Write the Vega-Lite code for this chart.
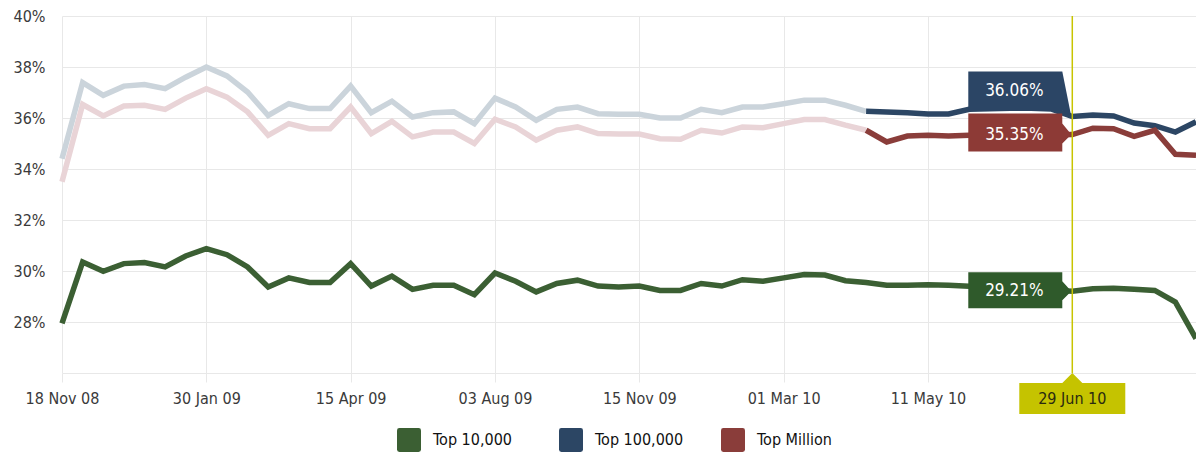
{
  "$schema": "https://vega.github.io/schema/vega-lite/v6.json",
  "width": 1134,
  "height": 357,
  "autosize": {"type": "none"},
  "padding": {"left": 62, "top": 16, "right": 0, "bottom": 81},
  "background": "white",
  "config": {
    "view": {"stroke": null},
    "font": "DejaVu Sans Condensed",
    "axis": {"gridColor": "#e8e8e8", "gridWidth": 1, "labelFont": "DejaVu Sans Condensed", "labelFontSize": 16, "labelColor": "#3a3a3a"}
  },
  "data": {"values": [
    {"idx":0,"series":"Top 10,000","share":0.2795},{"idx":1,"series":"Top 10,000","share":0.3035},{"idx":2,"series":"Top 10,000","share":0.2999},{"idx":3,"series":"Top 10,000","share":0.3029},{"idx":4,"series":"Top 10,000","share":0.3033},{"idx":5,"series":"Top 10,000","share":0.3016},{"idx":6,"series":"Top 10,000","share":0.3059},{"idx":7,"series":"Top 10,000","share":0.3088},{"idx":8,"series":"Top 10,000","share":0.3064},{"idx":9,"series":"Top 10,000","share":0.3016},
    {"idx":10,"series":"Top 10,000","share":0.2937},{"idx":11,"series":"Top 10,000","share":0.2973},{"idx":12,"series":"Top 10,000","share":0.2955},{"idx":13,"series":"Top 10,000","share":0.2955},{"idx":14,"series":"Top 10,000","share":0.3029},{"idx":15,"series":"Top 10,000","share":0.2941},{"idx":16,"series":"Top 10,000","share":0.2980},{"idx":17,"series":"Top 10,000","share":0.2928},{"idx":18,"series":"Top 10,000","share":0.2944},{"idx":19,"series":"Top 10,000","share":0.2944},
    {"idx":20,"series":"Top 10,000","share":0.2907},{"idx":21,"series":"Top 10,000","share":0.2992},{"idx":22,"series":"Top 10,000","share":0.2960},{"idx":23,"series":"Top 10,000","share":0.2918},{"idx":24,"series":"Top 10,000","share":0.2951},{"idx":25,"series":"Top 10,000","share":0.2964},{"idx":26,"series":"Top 10,000","share":0.2941},{"idx":27,"series":"Top 10,000","share":0.2937},{"idx":28,"series":"Top 10,000","share":0.2941},{"idx":29,"series":"Top 10,000","share":0.2924},
    {"idx":30,"series":"Top 10,000","share":0.2924},{"idx":31,"series":"Top 10,000","share":0.2951},{"idx":32,"series":"Top 10,000","share":0.2941},{"idx":33,"series":"Top 10,000","share":0.2966},{"idx":34,"series":"Top 10,000","share":0.2960},{"idx":35,"series":"Top 10,000","share":0.2973},{"idx":36,"series":"Top 10,000","share":0.2986},{"idx":37,"series":"Top 10,000","share":0.2984},{"idx":38,"series":"Top 10,000","share":0.2962},{"idx":39,"series":"Top 10,000","share":0.2955},
    {"idx":40,"series":"Top 10,000","share":0.2944},{"idx":41,"series":"Top 10,000","share":0.2944},{"idx":42,"series":"Top 10,000","share":0.2946},{"idx":43,"series":"Top 10,000","share":0.2944},{"idx":44,"series":"Top 10,000","share":0.2940},{"idx":45,"series":"Top 10,000","share":0.2937},{"idx":46,"series":"Top 10,000","share":0.2934},{"idx":47,"series":"Top 10,000","share":0.2930},{"idx":48,"series":"Top 10,000","share":0.2925},{"idx":49,"series":"Top 10,000","share":0.2921},
    {"idx":50,"series":"Top 10,000","share":0.2930},{"idx":51,"series":"Top 10,000","share":0.2932},{"idx":52,"series":"Top 10,000","share":0.2928},{"idx":53,"series":"Top 10,000","share":0.2924},{"idx":54,"series":"Top 10,000","share":0.2878},{"idx":55,"series":"Top 10,000","share":0.2735},

    {"idx":0,"series":"Top 100,000","share":0.3440},{"idx":1,"series":"Top 100,000","share":0.3739},{"idx":2,"series":"Top 100,000","share":0.3689},{"idx":3,"series":"Top 100,000","share":0.3725},{"idx":4,"series":"Top 100,000","share":0.3731},{"idx":5,"series":"Top 100,000","share":0.3715},{"idx":6,"series":"Top 100,000","share":0.3760},{"idx":7,"series":"Top 100,000","share":0.3800},{"idx":8,"series":"Top 100,000","share":0.3765},{"idx":9,"series":"Top 100,000","share":0.3702},
    {"idx":10,"series":"Top 100,000","share":0.3610},{"idx":11,"series":"Top 100,000","share":0.3656},{"idx":12,"series":"Top 100,000","share":0.3637},{"idx":13,"series":"Top 100,000","share":0.3637},{"idx":14,"series":"Top 100,000","share":0.3725},{"idx":15,"series":"Top 100,000","share":0.3621},{"idx":16,"series":"Top 100,000","share":0.3666},{"idx":17,"series":"Top 100,000","share":0.3604},{"idx":18,"series":"Top 100,000","share":0.3621},{"idx":19,"series":"Top 100,000","share":0.3624},
    {"idx":20,"series":"Top 100,000","share":0.3578},{"idx":21,"series":"Top 100,000","share":0.3678},{"idx":22,"series":"Top 100,000","share":0.3643},{"idx":23,"series":"Top 100,000","share":0.3591},{"idx":24,"series":"Top 100,000","share":0.3634},{"idx":25,"series":"Top 100,000","share":0.3643},{"idx":26,"series":"Top 100,000","share":0.3617},{"idx":27,"series":"Top 100,000","share":0.3615},{"idx":28,"series":"Top 100,000","share":0.3615},{"idx":29,"series":"Top 100,000","share":0.3600},
    {"idx":30,"series":"Top 100,000","share":0.3600},{"idx":31,"series":"Top 100,000","share":0.3634},{"idx":32,"series":"Top 100,000","share":0.3621},{"idx":33,"series":"Top 100,000","share":0.3643},{"idx":34,"series":"Top 100,000","share":0.3643},{"idx":35,"series":"Top 100,000","share":0.3656},{"idx":36,"series":"Top 100,000","share":0.3670},{"idx":37,"series":"Top 100,000","share":0.3670},{"idx":38,"series":"Top 100,000","share":0.3650},{"idx":39,"series":"Top 100,000","share":0.3626},
    {"idx":40,"series":"Top 100,000","share":0.3624},{"idx":41,"series":"Top 100,000","share":0.3621},{"idx":42,"series":"Top 100,000","share":0.3616},{"idx":43,"series":"Top 100,000","share":0.3616},{"idx":44,"series":"Top 100,000","share":0.3634},{"idx":45,"series":"Top 100,000","share":0.3636},{"idx":46,"series":"Top 100,000","share":0.3638},{"idx":47,"series":"Top 100,000","share":0.3638},{"idx":48,"series":"Top 100,000","share":0.3635},{"idx":49,"series":"Top 100,000","share":0.3606},
    {"idx":50,"series":"Top 100,000","share":0.3612},{"idx":51,"series":"Top 100,000","share":0.3608},{"idx":52,"series":"Top 100,000","share":0.3580},{"idx":53,"series":"Top 100,000","share":0.3570},{"idx":54,"series":"Top 100,000","share":0.3545},{"idx":55,"series":"Top 100,000","share":0.3585},

    {"idx":0,"series":"Top Million","share":0.3350},{"idx":1,"series":"Top Million","share":0.3653},{"idx":2,"series":"Top Million","share":0.3608},{"idx":3,"series":"Top Million","share":0.3647},{"idx":4,"series":"Top Million","share":0.3650},{"idx":5,"series":"Top Million","share":0.3634},{"idx":6,"series":"Top Million","share":0.3678},{"idx":7,"series":"Top Million","share":0.3715},{"idx":8,"series":"Top Million","share":0.3682},{"idx":9,"series":"Top Million","share":0.3624},
    {"idx":10,"series":"Top Million","share":0.3532},{"idx":11,"series":"Top Million","share":0.3578},{"idx":12,"series":"Top Million","share":0.3558},{"idx":13,"series":"Top Million","share":0.3558},{"idx":14,"series":"Top Million","share":0.3643},{"idx":15,"series":"Top Million","share":0.3539},{"idx":16,"series":"Top Million","share":0.3587},{"idx":17,"series":"Top Million","share":0.3526},{"idx":18,"series":"Top Million","share":0.3545},{"idx":19,"series":"Top Million","share":0.3545},
    {"idx":20,"series":"Top Million","share":0.3500},{"idx":21,"series":"Top Million","share":0.3595},{"idx":22,"series":"Top Million","share":0.3565},{"idx":23,"series":"Top Million","share":0.3513},{"idx":24,"series":"Top Million","share":0.3552},{"idx":25,"series":"Top Million","share":0.3565},{"idx":26,"series":"Top Million","share":0.3539},{"idx":27,"series":"Top Million","share":0.3537},{"idx":28,"series":"Top Million","share":0.3537},{"idx":29,"series":"Top Million","share":0.3519},
    {"idx":30,"series":"Top Million","share":0.3517},{"idx":31,"series":"Top Million","share":0.3552},{"idx":32,"series":"Top Million","share":0.3541},{"idx":33,"series":"Top Million","share":0.3565},{"idx":34,"series":"Top Million","share":0.3562},{"idx":35,"series":"Top Million","share":0.3578},{"idx":36,"series":"Top Million","share":0.3594},{"idx":37,"series":"Top Million","share":0.3594},{"idx":38,"series":"Top Million","share":0.3572},{"idx":39,"series":"Top Million","share":0.3552},
    {"idx":40,"series":"Top Million","share":0.3506},{"idx":41,"series":"Top Million","share":0.3529},{"idx":42,"series":"Top Million","share":0.3532},{"idx":43,"series":"Top Million","share":0.3529},{"idx":44,"series":"Top Million","share":0.3532},{"idx":45,"series":"Top Million","share":0.3533},{"idx":46,"series":"Top Million","share":0.3533},{"idx":47,"series":"Top Million","share":0.3534},{"idx":48,"series":"Top Million","share":0.3534},{"idx":49,"series":"Top Million","share":0.3535},
    {"idx":50,"series":"Top Million","share":0.3560},{"idx":51,"series":"Top Million","share":0.3558},{"idx":52,"series":"Top Million","share":0.3528},{"idx":53,"series":"Top Million","share":0.3552},{"idx":54,"series":"Top Million","share":0.3458},{"idx":55,"series":"Top Million","share":0.3454}
  ]},
  "encoding": {
    "x": {"field": "idx", "type": "quantitative", "scale": {"domain": [0, 55], "nice": false, "zero": false},
      "axis": {"title": null, "values": [0, 7, 14, 21, 28, 35, 42], "labelExpr": "['18 Nov 08','30 Jan 09','15 Apr 09','03 Aug 09','15 Nov 09','01 Mar 10','11 May 10'][round(datum.value/7)]", "domain": true, "domainColor": "#e8e8e8", "tickColor": "#e8e8e8", "tickSize": 9, "labelPadding": 8, "grid": true, "labelFlush": false}},
    "y": {"field": "share", "type": "quantitative", "scale": {"domain": [0.26, 0.40], "nice": false, "zero": false},
      "axis": {"title": null, "values": [0.28, 0.30, 0.32, 0.34, 0.36, 0.38, 0.40], "format": ".0%", "domain": false, "ticks": false, "labelPadding": 17, "grid": true}}
  },
  "layer": [
    {
      "transform": [{"filter": "datum.series == 'Top 100,000' && datum.idx <= 39"}],
      "mark": {"type": "line", "strokeWidth": 5.5, "color": "#cbd4db"}
    },
    {
      "transform": [{"filter": "datum.series == 'Top Million' && datum.idx <= 39"}],
      "mark": {"type": "line", "strokeWidth": 5.5, "color": "#e9d4d7"}
    },
    {
      "transform": [{"filter": "datum.series == 'Top 10,000' || datum.idx >= 39"}],
      "mark": {"type": "line", "strokeWidth": 5.5},
      "encoding": {
        "color": {"field": "series", "type": "nominal",
          "scale": {"domain": ["Top 10,000", "Top 100,000", "Top Million"], "range": ["#3b5f33", "#2c4664", "#8a3d3a"]},
          "legend": {"title": null, "orient": "none", "legendX": 335, "legendY": 412, "direction": "horizontal",
            "symbolType": "M-1,-0.8Q-1,-1,-0.8,-1L0.8,-1Q1,-1,1,-0.8L1,0.8Q1,1,0.8,1L-0.8,1Q-1,1,-1,0.8Z",
            "symbolSize": 576, "symbolStrokeWidth": 0, "labelFont": "DejaVu Sans Condensed", "labelFontSize": 16, "labelColor": "#111111",
            "labelOffset": 12, "columnPadding": 37, "gridAlign": "all", "padding": 0,
            "encode": {"symbols": {"update": {"fill": {"scale": "color", "field": "value"}, "stroke": {"value": "transparent"}, "opacity": {"value": 1}}}}}}
      }
    },
    {
      "transform": [{"filter": "datum.series == 'Top 10,000' && datum.idx == 49"}],
      "mark": {"type": "rule", "color": "#c8c400", "strokeWidth": 1.5},
      "encoding": {"y": {"datum": 0.40, "type": "quantitative"}, "y2": {"datum": 0.26}}
    },
    {
      "transform": [{"filter": "datum.series == 'Top 10,000' && datum.idx == 49"}],
      "mark": {"type": "point", "shape": "M0,0L10,10L53,10L53,41L-53,41L-53,10L-10,10Z", "size": 4, "filled": true, "color": "#c5c300", "opacity": 1, "strokeWidth": 0},
      "encoding": {"y": {"datum": 0.26, "type": "quantitative"}}
    },
    {
      "transform": [{"filter": "datum.series == 'Top 10,000' && datum.idx == 49"}],
      "mark": {"type": "text", "text": "29 Jun 10", "dy": 26, "fontSize": 16, "color": "#2a2a10", "align": "center", "baseline": "middle"},
      "encoding": {"y": {"datum": 0.26, "type": "quantitative"}}
    },
    {
      "transform": [{"filter": "datum.series == 'Top 100,000' && datum.idx == 49"}],
      "mark": {"type": "point", "shape": "M-104,-45L-10,-45L-1,0L-10,-6L-104,-6Z", "size": 4, "filled": true, "color": "#2b4565", "opacity": 1, "strokeWidth": 0}
    },
    {
      "transform": [{"filter": "datum.series == 'Top Million' && datum.idx == 49"}],
      "mark": {"type": "point", "shape": "M-104,-21L-10,-21L-10,-11L-1,0L-10,9L-10,17L-104,17Z", "size": 4, "filled": true, "color": "#8d3a36", "opacity": 1, "strokeWidth": 0}
    },
    {
      "transform": [{"filter": "datum.series == 'Top 10,000' && datum.idx == 49"}],
      "mark": {"type": "point", "shape": "M-104,-19L-10,-19L-10,-10L-1,0L-10,9L-10,17L-104,17Z", "size": 4, "filled": true, "color": "#2f5a2b", "opacity": 1, "strokeWidth": 0}
    },
    {
      "transform": [{"filter": "datum.series != 'Top 100,000' && datum.idx == 49"}],
      "mark": {"type": "text", "dx": -58, "dy": 0, "fontSize": 17, "color": "#ffffff", "align": "center", "baseline": "middle"},
      "encoding": {"text": {"field": "share", "type": "quantitative", "format": ".2%"}}
    },
    {
      "transform": [{"filter": "datum.series == 'Top 100,000' && datum.idx == 49"}],
      "mark": {"type": "text", "dx": -58, "dy": -25, "fontSize": 17, "color": "#ffffff", "align": "center", "baseline": "middle"},
      "encoding": {"text": {"field": "share", "type": "quantitative", "format": ".2%"}}
    }
  ]
}
